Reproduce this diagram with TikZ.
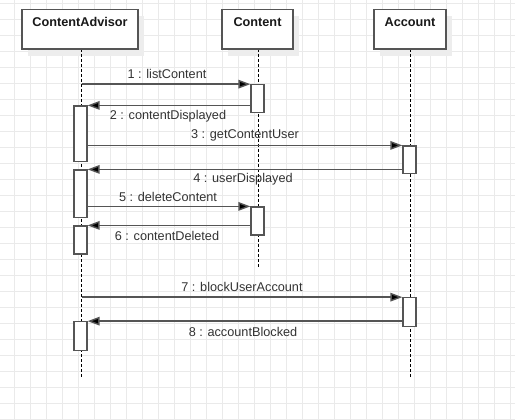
\documentclass[tikz,border=0pt]{standalone}
\usepackage{fontspec}
\setmainfont{Liberation Sans}
\usetikzlibrary{arrows.meta}
\definecolor{gridgray}{HTML}{EAEAEA}
\definecolor{linegray}{HTML}{555555}
\definecolor{textgray}{HTML}{333333}
\definecolor{shadowgray}{HTML}{EDEDED}
\begin{document}
\begin{tikzpicture}[x=1pt, y=-1pt,
        gridline/.style={gridgray, line width=0.6pt},
        head/.style={draw=linegray, fill=white, line width=1.3pt, minimum height=0pt,
            inner xsep=0pt, inner ysep=4pt, text height=13pt, text depth=18.5pt,
            font=\fontsize{12.7}{15}\selectfont\bfseries, text=black!90},
        shade_box/.style={fill=shadowgray, draw=none},
        lifeline/.style={black, densely dashed, line width=0.8pt},
        act/.style={draw=linegray, fill=white, line width=1.2pt, minimum width=13pt, inner sep=0pt},
        msg/.style={linegray, line width=1.4pt, -{Triangle[length=12pt, width=8.5pt, fill=black]}},
        msg_label/.style={font=\fontsize{12.7}{15}\selectfont, text=textgray}
    ]
    \useasboundingbox (0,0) rectangle (515,420);
    \fill[white] (0,0) rectangle (515,420);

    % Grid
    \foreach \gx in {14,30,...,510} \draw[gridline] (\gx,0) -- (\gx,420);
    \foreach \gy in {3,19,...,419} \draw[gridline] (0,\gy) -- (515,\gy);

    % Shadows
    \fill[shade_box] (28,16) rectangle (144,56);
    \fill[shade_box] (228,16) rectangle (299,56);
    \fill[shade_box] (380,16) rectangle (452,56);

    % Lifelines
    \coordinate (caL) at (81.5,49);
    \coordinate (cnL) at (258.5,49);
    \coordinate (acL) at (410.5,49);
    \coordinate (caE) at (81.5,378);
    \coordinate (cnE) at (258.5,268);
    \coordinate (acE) at (410.5,378);
    \draw[lifeline] (caL) -- (caE);
    \draw[lifeline] (cnL) -- (cnE);
    \draw[lifeline] (acL) -- (acE);

    % Heads
    \node[head, minimum width=116pt] (ca) at (80,29.25) {ContentAdvisor};
    \node[head, minimum width=71pt] (cn) at (257.5,29.25) {Content};
    \node[head, minimum width=72pt] (ac) at (410,29.25) {Account};

    % Activations
    \node[act, minimum height=27.5pt] (cn1) at (257.5,98.5) {};
    \node[act, minimum height=55.5pt] (ca1) at (80.5,133.75) {};
    \node[act, minimum height=27.5pt] (ac1) at (409.5,159.75) {};
    \node[act, minimum height=47.5pt] (ca2) at (80.5,193.75) {};
    \node[act, minimum height=28pt] (cn2) at (257.5,221) {};
    \node[act, minimum height=28pt] (ca3) at (80.5,240) {};
    \node[act, minimum height=28.5pt] (ac2) at (409.5,312) {};
    \node[act, minimum height=28.5pt] (ca4) at (80.5,336) {};

    % Messages
    \draw[msg] (caL |- cn1.north) -- (cn1.north west);
    \draw[msg] (cn1.west |- ca1.north) -- (ca1.north east);
    \draw[msg] (ca1.east |- ac1.north) -- (ac1.north west);
    \draw[msg] (ac1.west |- ca2.north) -- (ca2.north east);
    \draw[msg] (ca2.east |- cn2.north) -- (cn2.north west);
    \draw[msg] (cn2.west |- ca3.north) -- (ca3.north east);
    \draw[msg] (caL |- ac2.north) -- (ac2.north west);
    \draw[msg] (ac2.west |- ca4.north) -- (ca4.north east);

    % Labels
    \node[msg_label] (l1) at (167,74) {1 : listContent};
    \node[msg_label] (l2) at (168,116) {2 : contentDisplayed};
    \node[msg_label] (l3) at (245,135.5) {3 : getContentUser};
    \node[msg_label] (l4) at (243,179.5) {4 : userDisplayed};
    \node[msg_label] (l5) at (168,196.5) {5 : deleteContent};
    \node[msg_label] (l6) at (167,235.5) {6 : contentDeleted};
    \node[msg_label] (l7) at (242,286.5) {7 : blockUserAccount};
    \node[msg_label] (l8) at (243,331.5) {8 : accountBlocked};
\end{tikzpicture}
\end{document}
